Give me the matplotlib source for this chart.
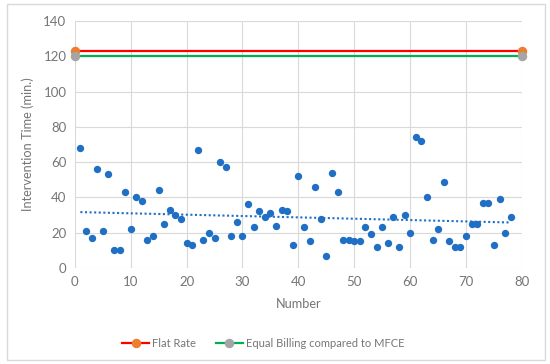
import numpy as np
import matplotlib.pyplot as plt
from matplotlib.patches import Rectangle

plt.rcParams['font.family'] = ['Lato', 'DejaVu Sans']

# === Data ===
number = list(range(1, 79))
minutes = [68, 21, 17, 56, 21, 53, 10, 10, 43, 22,
           40, 38, 16, 18, 44, 25, 33, 30, 28, 14,
           13, 67, 16, 20, 17, 60, 57, 18, 26, 18,
           36, 23, 32, 29, 31, 24, 33, 32, 13, 52,
           23, 15, 46, 28, 7, 54, 43, 16, 16, 15,
           15, 23, 19, 12, 23, 14, 29, 12, 30, 20,
           74, 72, 40, 16, 22, 49, 15, 12, 12, 18,
           25, 25, 37, 37, 13, 39, 20, 29]
flat_x = [0, 80]
flat_rate = [123, 123]
equal_billing = [120, 120]

grey = '#767676'

fig = plt.figure(figsize=(5.5, 3.64), dpi=100)
fig.patches.append(Rectangle((0.013, 0.011), 0.978, 0.978, transform=fig.transFigure,
                             fill=False, edgecolor='#d9d9d9', linewidth=1))
ax = fig.add_axes([0.136, 0.264, 0.813, 0.678])

ax.scatter(number, minutes, s=28, color='#1f6fc5', zorder=3, linewidths=0)

# linear trend line
k, b = np.polyfit(number, minutes, 1)
tx = np.array([number[0], number[-1]])
ax.plot(tx, k * tx + b, linestyle=(0, (1, 1.2)), color='#1f6fc5', linewidth=1.5, zorder=2)

ax.plot(flat_x, flat_rate, color='#ff0000', linewidth=1.6, marker='o', markersize=5.8,
        markerfacecolor='#ed7d31', markeredgecolor='#ed7d31', label='Flat Rate', zorder=4, clip_on=False)
ax.plot(flat_x, equal_billing, color='#00b050', linewidth=1.6, marker='o', markersize=5.8,
        markerfacecolor='#a5a5a5', markeredgecolor='#a5a5a5',
        label='Equal Billing compared to MFCE', zorder=4, clip_on=False)

ax.set_xlim(0, 80)
ax.set_ylim(0, 140)
ax.set_xticks(range(0, 81, 10))
ax.set_yticks(range(0, 141, 20))
ax.grid(True, color='#d9d9d9', linewidth=0.8)
ax.set_axisbelow(True)
for s in ax.spines.values():
    s.set_visible(False)
ax.tick_params(length=0, labelsize=9.5, labelcolor=grey, pad=6)

ax.set_xlabel('Number', fontsize=9.2, color=grey, labelpad=7)
ax.set_ylabel('Intervention Time (min.)', fontsize=9.2, color=grey, labelpad=7)

leg = fig.legend(loc='center', bbox_to_anchor=(0.478, 0.057), ncol=2, frameon=False,
                 fontsize=8, handlelength=2.5, columnspacing=1.8, handletextpad=0.2)
for t in leg.get_texts():
    t.set_color(grey)

fig.savefig('out.png', dpi=100)
